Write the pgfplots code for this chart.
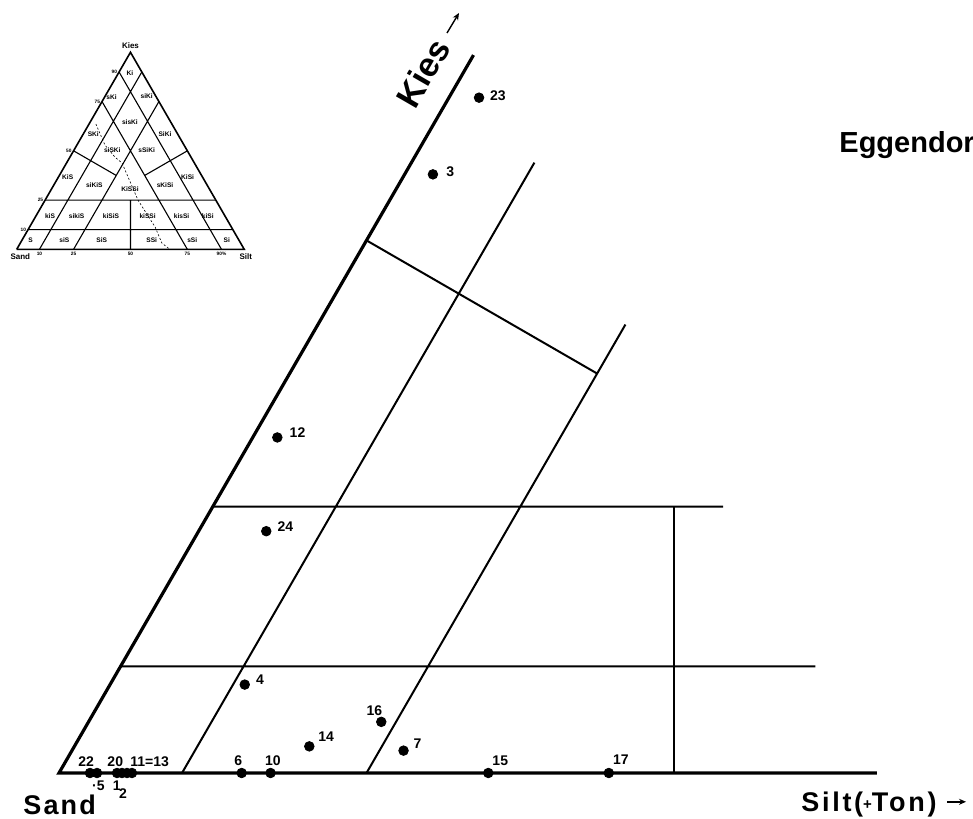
\documentclass[border=0pt]{standalone}
\usepackage{fontspec}
\setmainfont{Liberation Sans}
\newfontfamily\spaced{Liberation Sans}[LetterSpace=8]
\newfontfamily\wide{Liberation Sans}[LetterSpace=10]
\usepackage{pgfplots}
\pgfplotsset{compat=1.18}
\usepackage{pgfplotstable}
\usetikzlibrary{arrows.meta}

% all data as (silt %, kies %); sand = 100 - silt - kies
\pgfplotstableread{
s k
0 67.4
0 0
66.5 0
}\outline

\pgfplotstableread{
s k
10 0
10 57.3
nan nan
25 0
25 42.1
nan nan
0 50
25 37.5
nan nan
0 10
56.5 10
nan nan
0 25
41.5 25
}\fields

\pgfplotstableread{
s k n dx dy
2.45 63.4 23 5.3 0.9
2.3 56.2 3 6.5 1.5
2.0 31.5 12 6.0 2.5
5.5 22.7 24 5.5 2.5
10.95 8.3 4 5.5 2.7
23.8 4.8 16 -7.5 5.8
19.1 2.5 14 4.3 5.0
26.96 2.1 7 4.8 3.5
14.85 0 6 -3.9 6.0
17.2 0 10 -2.9 6.0
34.9 0 15 1.9 6.3
44.7 0 17 1.9 6.8
2.52 0 22 -6.0 5.5
3.09 0 ·5 -2.6 -6.3
4.72 0 20 -5.0 5.5
5.12 0 1 -4.8 -6.5
5.53 0 2 -4.2 -10.5
5.93 0 11=13 -1.0 5.5
}\samples

% small overview triangle
\pgfplotstableread{
s k
0 0
100 0
0 100
0 0
}\tri

\pgfplotstableread{
s k
10 0
10 90
nan nan
90 0
0 90
nan nan
25 0
25 75
nan nan
75 0
0 75
nan nan
0 10
90 10
nan nan
0 25
75 25
nan nan
50 0
37.5 25
nan nan
0 50
25 37.5
nan nan
37.5 37.5
50 50
}\trilines

\pgfplotstableread{
s k
3.0 63.6
12.35 52.9
19.8 46.8
24.4 43.8
40.8 25.0
55.2 11.3
62.2 3.2
67.3 0
}\tricurve

\pgfplotstableread{
s k lab
5.1 89.3 Ki
3.0 77.4 sKi
18.2 77.9 siKi
17.4 64.7 sisKi
4.5 58.3 SKi
36.0 58.3 SiKi
16.8 50.4 siSKi
31.9 50.4 sSiKi
4.0 36.8 KiS
17.8 32.6 siKiS
34.6 30.4 KiSSi
48.9 32.6 sKiSi
56.7 36.8 KiSi
6.2 16.9 kiS
17.9 16.9 sikiS
33.0 16.9 kiSiS
49.1 16.9 kiSSi
64.0 16.9 kisSi
75.5 16.9 kiSi
3.8 4.7 S
18.6 4.7 siS
35.0 4.7 SiS
57.0 4.7 SSi
74.8 4.7 sSi
90.0 4.7 Si
}\tricells

\pgfplotstableread{
s k lab
0 90 90
0 75 75
0 50 50
0 25 25
0 10 10
}\trileft

\pgfplotstableread{
s k lab
10 0 10
25 0 25
50 0 50
75 0 75
90 0 90\%
}\tribottom

\begin{document}
\begin{tikzpicture}
\begin{axis}[
    x={(6.15pt,0pt)}, y={(3.075pt,5.326pt)},
    hide axis, clip=false,
    xmin=-30, xmax=70, ymin=0, ymax=70,
    unbounded coords=jump,
]
\coordinate (O) at (axis cs:0,0);

% main diagram
\addplot[black, line width=1.6pt, line join=miter] table[x=s, y=k] {\outline};
\addplot[black, line width=1pt] table[x=s, y=k] {\fields};
\addplot[black, line width=0.8pt] coordinates {(50,0) (37.5,25)};

\addplot[only marks, mark=*, mark size=2.4pt, black,
    nodes near coords, point meta=explicit symbolic,
    visualization depends on={\thisrow{dx}\as\dx},
    visualization depends on={\thisrow{dy}\as\dy},
    nodes near coords style={anchor=west, inner sep=0pt, xshift=\dx pt, yshift=\dy pt,
        font=\fontsize{7}{8}\selectfont\bfseries, text=black}]
    table[x=s, y=k, meta=n] {\samples};

% overview triangle
\addplot[black, line width=0.8pt, line join=miter]
    table[x expr={-28.02+0.185*\thisrow{s}}, y expr={49.16+0.185*\thisrow{k}}] {\tri};
\addplot[black, line width=0.55pt]
    table[x expr={-28.02+0.185*\thisrow{s}}, y expr={49.16+0.185*\thisrow{k}}] {\trilines};
\addplot[black, line width=0.3pt, dash pattern=on 1pt off 1pt]
    table[x expr={-28.02+0.185*\thisrow{s}}, y expr={49.16+0.185*\thisrow{k}}] {\tricurve};
\addplot[draw=none, mark=none, nodes near coords, point meta=explicit symbolic,
    nodes near coords style={anchor=center, inner sep=0pt,
        font=\fontsize{3.3}{4}\selectfont\bfseries}]
    table[x expr={-28.02+0.185*\thisrow{s}}, y expr={49.16+0.185*\thisrow{k}}, meta=lab] {\tricells};
\addplot[draw=none, mark=none, nodes near coords, point meta=explicit symbolic,
    nodes near coords style={anchor=east, inner sep=0pt, xshift=-0.8pt,
        font=\fontsize{2.4}{3}\selectfont\bfseries}]
    table[x expr={-28.02+0.185*\thisrow{s}}, y expr={49.16+0.185*\thisrow{k}}, meta=lab] {\trileft};
\addplot[draw=none, mark=none, nodes near coords, point meta=explicit symbolic,
    nodes near coords style={anchor=north, inner sep=0pt, yshift=-1pt,
        font=\fontsize{2.4}{3}\selectfont\bfseries}]
    table[x expr={-28.02+0.185*\thisrow{s}}, y expr={49.16+0.185*\thisrow{k}}, meta=lab] {\tribottom};

\node[anchor=south, inner sep=0pt, font=\fontsize{4}{5}\selectfont\bfseries]
    at (axis cs:-28.02,67.66) [yshift=1.8pt] {Kies};
\node[anchor=north, inner sep=0pt, font=\fontsize{4}{5}\selectfont\bfseries]
    at (axis cs:-28.02,49.16) [xshift=1.8pt, yshift=-1.8pt] {Sand};
\node[anchor=north, inner sep=0pt, font=\fontsize{4}{5}\selectfont\bfseries]
    at (axis cs:-9.52,49.16) [xshift=0.8pt, yshift=-1.8pt] {Silt};
\end{axis}

% axis names and title
\node[anchor=base west, inner sep=0pt, font=\fontsize{13.5}{15}\spaced\bfseries]
    at ([shift={(-18pt,-20.5pt)}]O) {Sand};
\node[anchor=base west, inner sep=0pt, font=\fontsize{13.5}{15}\wide\bfseries]
    at ([shift={(371pt,-19.5pt)}]O) {Silt(\raisebox{1.2pt}{\fontsize{7.5}{8}\selectfont+}Ton)};
\draw[line width=0.7pt, -{Stealth[length=3.5pt, width=3pt]}]
    ([shift={(444pt,-14.4pt)}]O) -- ([shift={(453.5pt,-14.4pt)}]O);
\node[rotate=60, inner sep=0pt, font=\fontsize{17}{19}\selectfont\bfseries]
    at ([shift={(182pt,350pt)}]O) {Kies};
\draw[line width=0.7pt, -{Stealth[length=3.5pt, width=3pt]}]
    ([shift={(194pt,370pt)}]O) -- ([shift={(200pt,380pt)}]O);
\node[anchor=base west, inner sep=0pt, font=\fontsize{14.5}{16}\selectfont\bfseries]
    at ([shift={(390pt,310pt)}]O) {Eggendorf};

\pgfresetboundingbox
\useasboundingbox ([shift={(-29.5pt,-22.5pt)}]O) rectangle ([shift={(457pt,386.5pt)}]O);
\end{tikzpicture}
\end{document}
